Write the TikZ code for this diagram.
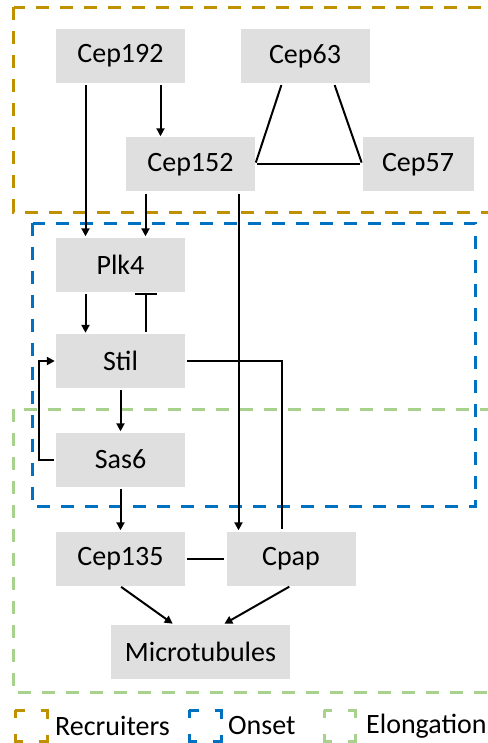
\documentclass[tikz,border=0pt]{standalone}
\usepackage{fontspec}
\setmainfont{Carlito}
\usetikzlibrary{arrows.meta}

\definecolor{recruit}{RGB}{191,144,0}
\definecolor{onset}{RGB}{0,112,192}
\definecolor{elong}{RGB}{169,209,142}

\begin{document}
\begin{tikzpicture}[x=1pt, y=-1pt, font={\fontsize{28}{33}\selectfont},
every node/.style={fill=gray!25, inner sep=0 pt, minimum width=129pt, minimum height=54pt},
region/.style={line width=3pt, dash pattern=on 13pt off 11pt},
icon/.style={line width=3pt, dash pattern=on 15pt off 16pt, dash phase=7.5pt},
legend/.style={fill=none, minimum width=0pt, minimum height=0pt, anchor=west},
arr/.style={line width=2pt, -{Triangle[length=8pt, width=8pt]}, shorten <=2pt, shorten >=1pt},
link/.style={line width=2pt, shorten <=2pt, shorten >=2pt},
]
\useasboundingbox (0,0) rectangle (487,743);

% phases
\draw[region, recruit] (13.5,7.5) rectangle (510,212.5);
\draw[region, onset] (32.5,223) rectangle (475,506.5);
\draw[region, elong] (13,409) rectangle (510,692);

\path
(120.5,56) node (cep192) {Cep192}
(305,56) node (cep63) {Cep63}
(190.5,164.5) node (cep152) {Cep152}
(418,164.5) node[minimum width=111pt] (cep57) {Cep57}
(120.5,264.5) node (plk4) {Plk4}
(120.5,361) node (stil) {Stil}
(120.5,459.5) node (sas6) {Sas6}
(120.5,558.5) node (cep135) {Cep135}
(291,558.5) node (cpap) {Cpap}
(200.5,651.5) node[minimum width=179pt] (mt) {Microtubules}
;

% activation
\draw[arr] ([xshift=-35pt]cep192.south) -- ([xshift=-35pt]plk4.north);
\draw[arr] ([xshift=40pt]cep192.south) -- ([xshift=40pt]cep192.south |- cep152.north);
\draw[arr] ([xshift=-45pt]cep152.south) -- ([xshift=-45pt]cep152.south |- plk4.north);
\draw[arr] ([xshift=48pt]cep152.south) -- ([xshift=48pt]cep152.south |- cpap.north);
\draw[arr] ([xshift=-35pt]plk4.south) -- ([xshift=-35pt]stil.north);
\draw[arr] (stil) -- (sas6);
\draw[arr] (sas6) -- (cep135);
\draw[arr] (sas6.west) -- ++(-17,0) |- (stil.west);
\draw[arr] ([xshift=-1pt]cep135.south) -- ([xshift=-27pt]mt.north);
\draw[arr] (cpap.south) -- ([xshift=23pt]mt.north);

% inhibition
\draw[line width=2pt, -{Bar[width=22pt]}, shorten <=2pt, shorten >=1pt]
([xshift=25pt]stil.north) -- ([xshift=25pt]plk4.south);

% binding
\draw[link] ([xshift=-23pt]cep63.south) -- (cep152.east);
\draw[link] (cep152.east) -- (cep57.west);
\draw[link] (cep57.west) -- ([xshift=29pt]cep63.south);
\draw[link] (cep135) -- (cpap);
\draw[link] (stil.east) -| ([xshift=-9pt]cpap.north);

% legend
\draw[icon, recruit] (15,710) rectangle (47,741);
\draw[icon, onset] (189,710) rectangle (221,741);
\draw[icon, elong] (324,710) rectangle (355,741);
\node[legend] (lrec) at (55,726) {Recruiters};
\node[legend] (lons) at (228,726) {Onset};
\node[legend] (lelo) at (366,726) {Elongation};

\end{tikzpicture}
\end{document}
